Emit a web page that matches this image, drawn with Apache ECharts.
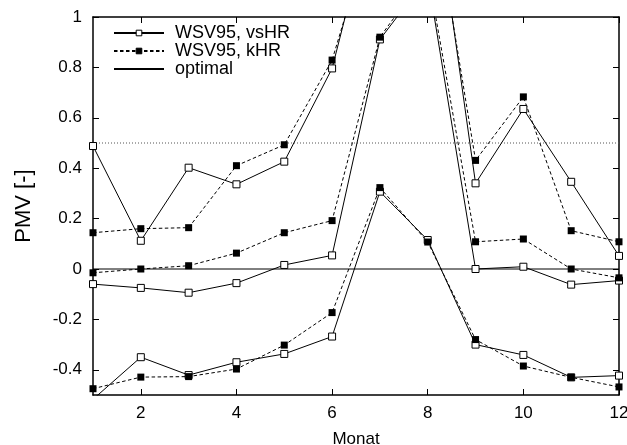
<!DOCTYPE html>
<html>
<head>
<meta charset="utf-8">
<script src="https://cdn.jsdelivr.net/npm/echarts@6/dist/echarts.min.js"></script>
<style>
html,body{margin:0;padding:0;background:#fff;}
#c{width:627px;height:445px;}
</style>
</head>
<body>
<div id="c"></div>
<script>
const months = [1,2,3,4,5,6,7,8,9,10,11,12];
const vsHR_max  = [0.488, 0.112, 0.402, 0.336, 0.426, 0.796, 1.54, 1.69, 0.340, 0.635, 0.346, 0.052];
const vsHR_mean = [-0.060, -0.075, -0.094, -0.056, 0.016, 0.054, 0.911, 1.16, 0.000, 0.009, -0.062, -0.046];
const vsHR_min  = [-0.517, -0.350, -0.421, -0.370, -0.337, -0.268, 0.307, 0.115, -0.300, -0.341, -0.430, -0.423];
const kHR_max   = [0.144, 0.160, 0.164, 0.410, 0.493, 0.829, 1.46, 1.59, 0.431, 0.683, 0.152, 0.108];
const kHR_mean  = [-0.015, 0.000, 0.013, 0.063, 0.144, 0.192, 0.920, 1.18, 0.108, 0.119, 0.000, -0.035];
const kHR_min   = [-0.475, -0.429, -0.427, -0.397, -0.302, -0.173, 0.323, 0.107, -0.280, -0.385, -0.430, -0.468];
const optimal   = [0, 0];
const comfortLimit = [0.5, 0.5];
const xTicks = [2,4,6,8,10,12];
const yTicks = [-0.4,-0.2,0,0.2,0.4,0.6,0.8,1];
const xRange = [1, 12];
const yRange = [-0.5, 1];

const FONT = 'Liberation Sans, Arial, Helvetica, sans-serif';
const chart = echarts.init(document.getElementById('c'));

function pairs(vals){ return months.map((m,i)=>[m, vals[i]]); }

function openSeries(vals){
  return {
    name: 'WSV95, vsHR', type: 'line', data: pairs(vals),
    symbol: 'rect', symbolSize: 7, showSymbol: true, clip: true,
    lineStyle: {color:'#000', width:1, type:'solid'},
    itemStyle: {color:'#fff', borderColor:'#000', borderWidth:1},
    emphasis: {disabled:true}, z: 3, animation:false
  };
}
function filledSeries(vals){
  return {
    name: 'WSV95, kHR', type: 'line', data: pairs(vals),
    symbol: 'rect', symbolSize: 7, showSymbol: true, clip: true,
    lineStyle: {color:'#000', width:1, type:[3.5,2.5]},
    itemStyle: {color:'#000', borderColor:'#000', borderWidth:0},
    emphasis: {disabled:true}, z: 3, animation:false
  };
}

const axisCommon = {
  type: 'value',
  axisLine: {show:true, onZero:false, lineStyle:{color:'#000', width:1.5}},
  splitLine: {show:false}
};

chart.setOption({
  animation: false,
  backgroundColor: '#fff',
  grid: {left: 93, top: 17, width: 526, height: 378, containLabel: false, outerBoundsMode: 'none'},
  legend: {
    data: ['WSV95, vsHR', 'WSV95, kHR', 'optimal'],
    orient: 'vertical', left: 113, top: 24,
    itemWidth: 50, itemHeight: 7, itemGap: 0,
    itemStyle: {borderWidth: 1},
    textStyle: {fontFamily: FONT, fontSize: 18, color:'#000', lineHeight: 18, padding:[0,0,0,6]},
    selectedMode: false, padding: 0
  },
  xAxis: [
    Object.assign({}, axisCommon, {
      min: xRange[0], max: xRange[1], position:'bottom',
      axisTick: {show:true, inside:true, length:6, customValues: xTicks, lineStyle:{color:'#000', width:1}},
      axisLabel: {show:true, customValues: xTicks, fontFamily: FONT, fontSize: 17, color:'#000', margin: 10},
      name: 'Monat', nameLocation: 'middle', nameGap: 36, nameMoveOverlap: false,
      nameTextStyle: {fontFamily: FONT, fontSize: 17, color:'#000'}
    }),
    Object.assign({}, axisCommon, {
      min: xRange[0], max: xRange[1], position:'top',
      axisTick: {show:true, inside:true, length:6, customValues: xTicks, lineStyle:{color:'#000', width:1}},
      axisLabel: {show:false, customValues: xTicks}
    })
  ],
  yAxis: [
    Object.assign({}, axisCommon, {
      min: yRange[0], max: yRange[1], position:'left',
      axisTick: {show:true, inside:true, length:6, customValues: yTicks, lineStyle:{color:'#000', width:1}},
      axisLabel: {show:true, customValues: yTicks, fontFamily: FONT, fontSize: 17, color:'#000', margin: 11},
      name: 'PMV [-]', nameLocation: 'middle', nameGap: 58, nameRotate: 90, nameMoveOverlap: false,
      nameTextStyle: {fontFamily: FONT, fontSize: 22, color:'#000'}
    }),
    Object.assign({}, axisCommon, {
      min: yRange[0], max: yRange[1], position:'right',
      axisTick: {show:true, inside:true, length:6, customValues: yTicks, lineStyle:{color:'#000', width:1}},
      axisLabel: {show:false, customValues: yTicks}
    })
  ],
  series: [
    {
      name: 'limit', type:'line', data: [[xRange[0], comfortLimit[0]], [xRange[1], comfortLimit[1]]],
      symbol:'none', lineStyle:{color:'#555', width:1, type:[1,2]}, z:1, silent:true, animation:false
    },
    openSeries(vsHR_max),
    openSeries(vsHR_mean),
    openSeries(vsHR_min),
    filledSeries(kHR_max),
    filledSeries(kHR_mean),
    filledSeries(kHR_min),
    {
      name: 'optimal', type:'line', data: [[xRange[0], optimal[0]], [xRange[1], optimal[1]]],
      symbol:'none', lineStyle:{color:'#000', width:1, type:'solid'}, itemStyle:{color:'#000', opacity:0},
      z:2, silent:true, animation:false
    }
  ]
});
</script>
</body>
</html>
